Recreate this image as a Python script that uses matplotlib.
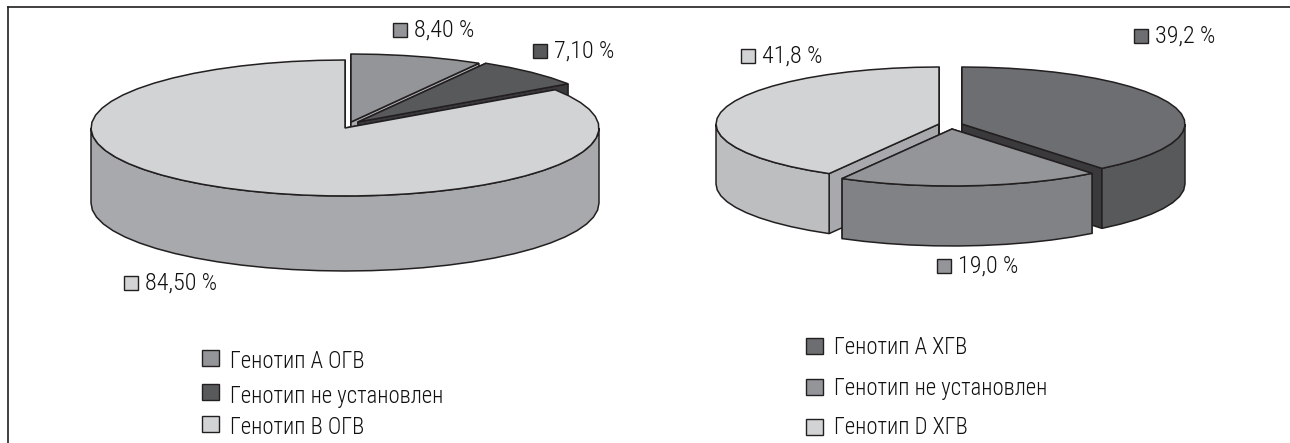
"""
Распределение генотипов ВГВ при ОГВ и ХГВ
"""

import numpy as np
import matplotlib
matplotlib.use("Agg")
import matplotlib.pyplot as plt
from matplotlib.patches import Polygon, Rectangle

plt.rcParams['font.family'] = ['Roboto Condensed', 'PT Sans Narrow', 'Liberation Sans', 'DejaVu Sans']
plt.rcParams['font.weight'] = 'light'

# левая диаграмма, ОГВ
ogv_values = [8.4, 7.1, 84.5]
ogv_labels = ['8,40 %', '7,10 %', '84,50 %']
ogv_names = ['Генотип А ОГВ', 'Генотип не установлен', 'Генотип В ОГВ']

# правая диаграмма, ХГВ
hgv_values = [39.2, 19.0, 41.8]
hgv_labels = ['39,2 %', '19,0 %', '41,8 %']
hgv_names = ['Генотип А ХГВ', 'Генотип не установлен', 'Генотип D ХГВ']

# цвета: верх, наружная стенка, торец
ogv_colors = [('#939598', '#808285', '#a7a9ac'),
              ('#58595b', '#414042', '#3a3a3c'),
              ('#d1d3d4', '#a7a9ac', '#a7a9ac')]
hgv_colors = [('#6d6e71', '#58595b', '#3a3a3c'),
              ('#939598', '#808285', '#6d6e71'),
              ('#d1d3d4', '#bcbec0', '#a7a9ac')]

EDGE = '#231f20'
TEXT = '#111111'


def arc(cx, cy, rx, ry, t0, t1):
    # углы в градусах, по часовой от верхней точки; дуга из коротких хорд
    n = max(int(abs(t1 - t0) / 6), 1) + 1
    t = np.radians(np.linspace(t0, t1, n))
    return np.column_stack([cx + rx * np.sin(t), cy - ry * np.cos(t)])


def slice3d(ax, cx, cy, rx, ry, h, t0, t1, colors):
    top_c, wall_c, side_c = colors
    down = np.array([0, h])
    # торцы
    for t in (t0, t1):
        p = arc(cx, cy, rx, ry, t, t + 0.01)[0]
        c = np.array([cx, cy])
        ax.add_patch(Polygon([c, p, p + down, c + down], fc=side_c, ec=EDGE, lw=1.1))
    # наружная стенка видна только спереди
    a, b = max(t0, 90), min(t1, 270)
    if b > a:
        edge = arc(cx, cy, rx, ry, a, b)
        ax.add_patch(Polygon(np.vstack([edge, (edge + down)[::-1]]), fc=wall_c, ec=EDGE, lw=1.1))
    top = np.vstack([[cx, cy], arc(cx, cy, rx, ry, t0, t1)])
    ax.add_patch(Polygon(top, fc=top_c, ec=EDGE, lw=1.1))


def pie3d(ax, values, centers, rx, ry, h, colors, order):
    edges = np.cumsum([0] + list(values)) * 3.6
    for i in order:
        slice3d(ax, centers[i][0], centers[i][1], rx, ry, h, edges[i], edges[i + 1], colors[i])


def label(ax, x, y, text, color):
    ax.add_patch(Rectangle((x, y - 7), 14, 14, fc=color, ec=EDGE, lw=1))
    ax.text(x + 21, y, text, fontsize=17.4, color=TEXT, va='center', ha='left')


def legend(ax, x, swatch_ys, text_ys, names, colors, width=17):
    for sy, ty, name, c in zip(swatch_ys, text_ys, names, colors):
        ax.add_patch(Rectangle((x, sy - 8), width, 16, fc=c[0], ec=EDGE, lw=1))
        ax.text(x + width + 11, ty, name, fontsize=16.3, color=TEXT, va='center', ha='left')


fig = plt.figure(figsize=(12.9, 4.43), dpi=100)
ax = fig.add_axes([0, 0, 1, 1])
ax.set_xlim(0, 1290)
ax.set_ylim(443, 0)
ax.axis('off')

# рамка: только сверху и слева
ax.plot([8, 1290], [7, 7], color=EDGE, lw=1.2)
ax.plot([8, 8], [7, 443], color=EDGE, lw=1.2)

pie3d(ax, ogv_values, [(351, 122), (358, 122), (345, 128)], 254, 68, 75, ogv_colors, [0, 1, 2])
pie3d(ax, hgv_values, [(962, 124), (952, 129), (939, 124)], 223, 57, 60, hgv_colors, [2, 0, 1])

label(ax, 393, 30, ogv_labels[0], ogv_colors[0][0])
label(ax, 533, 51, ogv_labels[1], ogv_colors[1][0])
label(ax, 124, 283, ogv_labels[2], ogv_colors[2][0])
label(ax, 1134, 36, hgv_labels[0], hgv_colors[0][0])
label(ax, 937, 266, hgv_labels[1], hgv_colors[1][0])
label(ax, 741, 56, hgv_labels[2], hgv_colors[2][0])

legend(ax, 202, [358, 392, 424], [361, 396, 427], ogv_names, ogv_colors)
legend(ax, 806, [346, 387, 427], [347, 388, 427], hgv_names, hgv_colors)

fig.savefig('out.png', dpi=100)
